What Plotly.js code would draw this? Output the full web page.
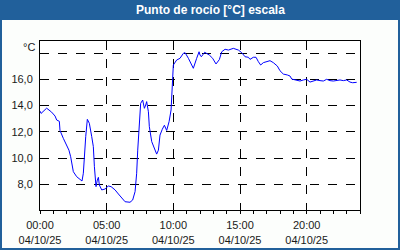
<!DOCTYPE html>
<html><head><meta charset="utf-8">
<script src="https://cdn.plot.ly/plotly-3.0.1.min.js"></script>
<style>html,body{margin:0;padding:0;background:#fcfefc;}#c{width:400px;height:250px;}</style>
</head><body><div id="c"></div>
<script>
const hours = [0,0.08,0.5,0.87,1.13,1.25,1.45,1.5,1.75,1.95,2.17,2.3,2.38,2.5,2.75,3.0,3.15,3.25,3.33,3.43,3.55,3.7,3.88,4.0,4.08,4.2,4.3,4.38,4.45,4.63,4.88,5.12,5.33,5.63,5.88,6.13,6.38,6.75,6.95,7.13,7.25,7.33,7.45,7.55,7.7,7.83,7.93,8.0,8.13,8.2,8.38,8.63,8.75,8.88,9.0,9.17,9.33,9.5,9.68,9.83,9.9,10.0,10.25,10.5,10.75,10.88,11.13,11.5,11.75,11.93,12.0,12.1,12.35,12.7,12.95,13.2,13.45,13.63,13.88,14.13,14.5,14.88,15.13,15.38,15.63,15.75,16.0,16.2,16.38,16.55,16.75,17.0,17.25,17.5,17.8,18.0,18.25,18.55,18.75,18.88,19.25,19.5,19.75,20.0,20.25,20.5,20.75,21.0,21.25,21.5,21.75,22.0,22.25,22.5,22.75,23.0,23.25,23.45,23.75];
const dewPoint = [13.58,13.4,13.8,13.5,13.2,12.9,12.8,12.1,11.5,11.0,10.6,10.1,9.47,8.96,8.58,8.33,8.25,8.84,10.36,11.63,12.95,12.65,11.63,10.87,9.34,7.82,8.33,8.53,7.95,7.57,7.64,7.87,7.82,7.57,7.26,6.93,6.67,6.63,6.8,7.44,8.84,10.6,12.77,14.17,14.42,13.79,14.04,14.3,13.53,12.39,11.25,10.6,10.3,10.6,11.75,12.19,12.5,12.1,12.77,13.66,15.18,17.09,17.47,17.6,17.98,18.03,17.6,16.84,17.6,18.1,17.85,17.72,18.06,17.85,17.6,17.17,17.5,18.1,18.29,18.23,18.36,18.23,18.03,17.72,17.68,17.52,17.68,17.68,17.34,17.09,17.27,17.34,17.42,17.27,17.01,16.65,16.4,16.33,16.25,16.02,15.9,15.87,15.95,16.0,15.79,15.9,15.95,15.9,15.87,16.0,15.9,15.87,15.9,15.95,15.9,15.95,15.79,15.74,15.77];
const xTickVals = [0,5,10,15,20];
const xTickText = ['00:00<br>04/10/25','05:00<br>04/10/25','10:00<br>04/10/25','15:00<br>04/10/25','20:00<br>04/10/25'];
const yTickVals = [8,10,12,14,16,18];
const yTickText = ['8,0','10,0','12,0','14,0','16,0',''];
const titleText = 'Punto de rocío [°C] escala';
const unitText = '°C';

const W=400,H=250,L=40,R=40,T=41,B=40;
const pw=W-L-R, ph=H-T-B;
const px = x => (x-L)/pw;
const py = y => (H-B-y)/ph;
const blue = '#21609b';
const font = {family:'Liberation Sans, Arial, sans-serif', size:11, color:'#1a1a1a'};

Plotly.newPlot('c',[{
  x: hours, y: dewPoint, type:'scatter', mode:'lines',
  line:{color:'#0000ff', width:1}, hoverinfo:'skip'
}],{
  width:W, height:H,
  margin:{l:L,r:R,t:T,b:B,pad:0},
  paper_bgcolor:'#fcfefc', plot_bgcolor:'#ffffff',
  showlegend:false,
  font: font,
  xaxis:{range:[0,24], tickvals:xTickVals, ticktext:xTickText, ticks:'outside', ticklen:3, tickcolor:'#000',
    showgrid:true, gridcolor:'#000', griddash:'dash', gridwidth:1, zeroline:false,
    showline:true, linecolor:'#000', linewidth:1, mirror:true, ticklabelstandoff:2,
    minor:{dtick:1, tick0:0, ticks:'outside', ticklen:3, tickcolor:'#000', showgrid:false},
    tickfont:font, fixedrange:true},
  yaxis:{range:[6.04,18.92], tickvals:yTickVals, ticktext:yTickText, ticks:'', 
    showgrid:true, gridcolor:'#000', griddash:'dash', gridwidth:1, zeroline:false,
    showline:true, linecolor:'#000', linewidth:1, mirror:true, ticklabelstandoff:4,
    tickfont:font, fixedrange:true},
  shapes:[
    {type:'rect', xref:'paper', yref:'paper', x0:px(0), x1:px(400), y0:py(0), y1:py(20), fillcolor:blue, line:{width:0}, layer:'below'},
    {type:'rect', xref:'paper', yref:'paper', x0:px(1), x1:px(399), y0:py(1), y1:py(249), fillcolor:'rgba(0,0,0,0)', line:{color:blue,width:2}, layer:'below'}
  ],
  annotations:[
    {text:'<b>'+titleText+'</b>', xref:'paper', yref:'paper', x:px(210), y:py(10), xanchor:'center', yanchor:'middle', showarrow:false, font:{family:'Liberation Sans, Arial, sans-serif', size:12, color:'#ffffff'}},
    {text:unitText, xref:'paper', yref:'paper', x:px(37), y:py(46.5), xanchor:'right', yanchor:'middle', showarrow:false, font:font}
  ]
},{staticPlot:true, displayModeBar:false});
</script></body></html>
